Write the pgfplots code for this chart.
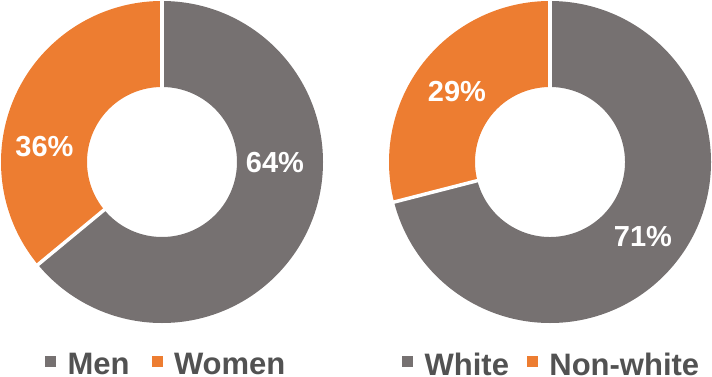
\documentclass[border=0pt]{standalone}
\usepackage{pgfplots}
\pgfplotsset{compat=1.18}
\usepackage{pgfplotstable}
\usepackage{fontspec}
\setmainfont{Liberation Sans}
\definecolor{pgray}{HTML}{767171}
\definecolor{porange}{HTML}{ED7D31}
\definecolor{ltext}{HTML}{525252}

\pgfplotstableread{
label value
Men 64
Women 36
}\gendertab
\pgfplotstableread{
label value
White 71
Non-white 29
}\racetab

% annular sector: cx, cy, start angle, end angle, colour
\newcommand\sector[5]{%
  \fill[#5] ([shift={({#3}:161pt)}]axis cs:#1,#2) arc[start angle={#3},end angle={#4},radius=161pt]
    -- ([shift={({#4}:75pt)}]axis cs:#1,#2) arc[start angle={#4},end angle={#3},radius=75pt] -- cycle;}
\newcommand\sep[3]{%
  \draw[white,line width=3.5pt] ([shift={({#3}:70pt)}]axis cs:#1,#2) -- ([shift={({#3}:163pt)}]axis cs:#1,#2);}

\pgfplotsset{
  donut/.style={width=356pt,height=376pt,scale only axis,ymin=0,ymax=376,hide axis,clip=false,
    legend columns=2,
    legend style={draw=none,fill=none,inner sep=0pt,
      font=\fontsize{31}{31}\selectfont\bfseries,text=ltext,
      nodes={inner sep=0pt,text=ltext}},
  },
  lsq/.style={legend image code/.code={\fill[#1] (0pt,-1pt) rectangle (10pt,9pt);}},
}

\begin{document}
\begin{tikzpicture}
\begin{axis}[donut,xmin=0,xmax=356,
  legend style={at={(axis cs:45,11)},anchor=west,
    /tikz/every even column/.append style={column sep=22pt}}]
  \pgfplotstablegetelem{0}{value}\of\gendertab
  \pgfmathsetmacro\aEnd{90-3.6*\pgfplotsretval}
  \sector{162}{214}{90}{\aEnd}{pgray}
  \sector{162}{214}{\aEnd}{-270}{porange}
  \sep{162}{214}{90}
  \sep{162}{214}{\aEnd}
  \node[font=\fontsize{29}{29}\selectfont\bfseries,text=white] at (axis cs:44.5,229) {36\%};
  \node[font=\fontsize{29}{29}\selectfont\bfseries,text=white] at (axis cs:275,213.5) {64\%};
  \addlegendimage{lsq=pgray}\addlegendentry{\hspace{12pt}Men}
  \addlegendimage{lsq=porange}\addlegendentry{\hspace{12pt}Women}
\end{axis}
\begin{axis}[donut,xmin=356,xmax=712,at={(356pt,0pt)},
  legend style={at={(axis cs:402,11)},anchor=west,
    /tikz/every even column/.append style={column sep=18pt}}]
  \pgfplotstablegetelem{0}{value}\of\racetab
  \pgfmathsetmacro\bEnd{90-3.6*\pgfplotsretval}
  \sector{550}{214}{90}{\bEnd}{pgray}
  \sector{550}{214}{\bEnd}{-270}{porange}
  \sep{550}{214}{90}
  \sep{550}{214}{\bEnd}
  \node[font=\fontsize{29}{29}\selectfont\bfseries,text=white] at (axis cs:457,284) {29\%};
  \node[font=\fontsize{29}{29}\selectfont\bfseries,text=white] at (axis cs:643,139.5) {71\%};
  \addlegendimage{lsq=pgray}\addlegendentry{\hspace{12pt}White}
  \addlegendimage{lsq=porange}\addlegendentry{\hspace{12pt}Non-white}
\end{axis}
\pgfresetboundingbox
\path (0pt,0pt) rectangle (712pt,376pt);
\end{tikzpicture}
\end{document}
